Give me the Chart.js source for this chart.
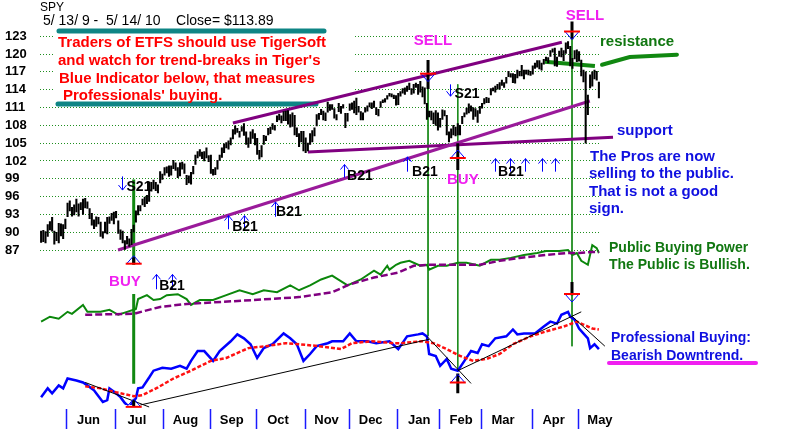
<!DOCTYPE html>
<html>
<head>
<meta charset="utf-8">
<title>SPY</title>
<script src="https://cdn.jsdelivr.net/npm/chart.js@4/dist/chart.umd.min.js"></script>
<style>
html,body{margin:0;padding:0;background:#fff;overflow:hidden}
canvas{display:block}
</style>
</head>
<body>
<canvas id="c" width="800" height="429"></canvas>
<script>
// ---------- DATA ----------
const monthLabels = ['Jun','Jul','Aug','Sep','Oct','Nov','Dec','Jan','Feb','Mar','Apr','May'];
const monthStartIdx = [12,34,56,77,98,120,140,162,181,200,223,244]; // trading-day index of 1st day of month
const priceTicks = [87,90,93,96,99,102,105,108,111,114,117,120,123];

// daily SPY highs / lows, 5/13/09 .. 5/14/10 (254 trading days)
const priceHigh = [
 90.2,90.3,90.1,91.3,91.8,92.5,90.2,90.0,91.5,91.4,91.3,92.2,
 94.9,95.3,94.2,94.6,95.6,94.8,95.0,95.6,95.7,95.1,94.0,93.2,92.1,92.6,92.5,91.7,90.1,91.7,92.5,92.6,93.2,93.4,
 93.5,91.9,90.4,90.2,88.6,89.3,88.9,90.5,91.2,93.6,94.5,94.5,95.6,95.9,96.2,98.5,98.4,98.8,98.4,98.0,100.2,99.8,
 100.9,101.0,101.2,101.2,102.1,101.7,100.9,101.7,101.8,101.5,99.6,99.5,100.1,101.1,103.0,103.6,103.9,103.5,103.6,104.2,102.9,
 103.0,100.6,100.9,102.1,103.0,104.2,104.9,105.1,105.4,105.9,107.3,107.9,107.5,107.0,107.8,108.3,106.9,105.9,106.9,107.3,106.6,
 105.8,103.8,104.6,106.3,106.2,107.5,107.7,108.3,108.0,109.6,109.9,109.6,110.3,110.4,110.5,109.8,110.1,109.7,107.6,106.6,107.0,107.0,
 105.9,105.0,106.6,107.1,107.6,109.8,110.0,110.7,110.4,110.1,111.9,111.5,111.5,110.8,109.8,111.7,111.2,111.5,110.0,110.0,
 111.6,111.8,112.1,112.6,111.2,110.3,110.1,111.0,111.3,111.8,111.8,112.1,111.0,110.7,112.0,112.3,112.5,113.0,113.4,113.3,113.1,113.0,
 113.4,113.7,114.2,114.3,114.6,115.1,114.2,114.9,115.1,114.9,115.4,114.5,114.3,111.7,110.4,110.4,110.1,110.5,110.1,
 109.2,110.6,110.5,109.7,106.9,107.4,108.0,107.7,108.3,108.0,109.5,110.1,110.9,111.6,111.3,111.0,110.8,110.5,111.2,
 111.7,112.5,112.7,112.6,114.2,114.3,114.6,114.9,115.2,115.6,115.2,116.1,117.1,116.7,116.7,116.6,117.3,117.1,118.1,117.3,117.3,117.3,117.1,
 118.0,118.5,118.9,118.9,118.5,119.1,119.5,119.4,120.6,120.9,121.0,119.5,120.5,121.0,120.6,121.9,122.1,121.3,119.3,120.6,120.7,
 120.4,119.0,117.3,117.0,113.1,116.5,117.0,117.3,117.1,115.3
];
const priceLow = [
 88.3,88.4,88.2,89.3,90.4,90.2,88.0,88.6,88.2,89.4,88.9,90.6,
 92.6,93.6,92.7,92.9,93.4,92.7,93.8,93.0,94.1,94.0,92.3,91.2,90.6,91.0,91.4,89.3,89.0,89.9,89.7,91.5,92.0,91.4,
 92.4,89.8,88.8,88.2,87.1,88.0,87.6,87.9,90.0,91.7,92.9,93.6,94.6,94.3,94.8,95.2,96.9,97.3,97.0,96.6,98.3,98.9,
 99.6,100.0,99.4,99.6,100.7,100.4,99.2,99.5,100.6,99.9,98.0,98.3,98.1,99.8,101.4,102.5,102.8,102.4,102.0,102.5,101.9,
 99.9,99.6,99.7,100.6,102.1,102.6,103.4,104.2,104.0,104.7,105.7,106.5,106.8,106.0,107.0,106.3,104.8,104.3,104.9,105.8,104.7,
 103.1,102.3,102.7,104.8,105.4,106.4,106.6,107.3,107.2,108.6,108.9,108.4,108.8,108.8,108.2,107.7,107.8,106.4,106.1,104.4,105.2,103.7,
 103.4,103.7,104.8,105.2,106.2,107.9,109.0,109.8,108.9,108.8,110.2,110.5,110.7,109.2,108.9,110.3,110.0,110.9,107.6,108.7,
 110.5,110.7,110.1,109.8,110.2,108.9,108.9,110.2,110.4,111.1,110.8,111.0,109.8,109.6,111.0,111.8,111.9,112.4,112.9,112.8,112.5,111.4,
 111.5,112.9,113.4,113.2,113.7,114.0,113.2,113.4,114.4,113.2,113.6,112.8,111.6,109.0,109.4,108.9,108.3,108.0,107.2,
 107.7,109.0,109.6,106.4,105.2,105.9,106.4,106.2,106.4,106.4,108.3,109.4,109.9,110.1,110.4,109.0,109.5,108.5,110.0,
 110.9,111.6,111.8,111.8,113.1,113.8,113.6,114.1,114.1,114.7,114.4,115.1,116.2,116.1,115.2,115.1,116.0,116.3,116.3,115.8,116.6,116.5,116.4,
 116.6,117.6,117.8,117.5,117.3,118.3,118.9,118.5,119.6,120.3,118.0,117.9,119.6,119.5,118.9,120.1,120.9,118.0,117.6,119.2,118.7,
 118.8,116.3,115.3,105.0,109.8,114.3,114.6,115.8,115.6,112.6
];

// Public Buying Power (green) and its moving average (purple)  [dayIndex, value]
const publicPower = [[0,10],[4,15],[8,13],[12,20],[14,18],[19,27],[21,20],[27,20],[31,22],[35,17],[39,20],[43,23],[44,33],[48,37],[51,32],[54,33],[57,37],[62,38],[66,33],[68,27],[72,32],[78,32],[84,37],[90,42],[96,38],[101,42],[107,40],[113,47],[117,42],[122,47],[127,53],[132,57],[139,47],[145,53],[151,62],[154,58],[157,67],[158,63],[161,68],[163,70],[167,72],[172,67],[175,68],[176,63],[180,67],[184,67],[189,70],[193,70],[199,67],[204,73],[208,73],[213,75],[219,78],[225,80],[229,82],[235,82],[239,83],[241,78],[243,80],[245,72],[248,68],[250,88],[252,85],[253,80]];
const publicMA = [[20,17],[42,18],[54,25],[66,28],[96,32],[117,35],[132,40],[140,48],[151,55],[162,60],[169,67],[176,68],[184,68],[199,68],[208,72],[217,75],[229,78],[239,80],[244,80],[250,81],[253,81]];

// Professional Buying (blue) and its moving average (red)
const proBuying = [[0,13],[3,22],[5,17],[8,25],[10,22],[12,32],[16,30],[19,28],[21,25],[24,20],[25,17],[28,8],[30,10],[31,22],[34,17],[36,13],[38,7],[40,3],[43,12],[44,22],[46,23],[49,33],[51,40],[55,43],[59,42],[63,45],[66,42],[68,50],[71,60],[74,60],[78,50],[81,60],[86,70],[89,77],[92,73],[95,67],[98,53],[101,63],[105,67],[110,78],[113,73],[116,67],[119,50],[122,57],[125,65],[130,68],[132,70],[137,70],[140,78],[143,70],[148,70],[152,68],[158,70],[162,62],[166,75],[171,77],[173,78],[175,75],[176,57],[179,55],[181,45],[184,52],[186,42],[189,40],[192,50],[195,60],[198,58],[200,67],[203,65],[206,73],[211,75],[214,82],[216,77],[219,78],[224,78],[228,85],[231,90],[234,88],[236,97],[239,100],[240,95],[242,92],[244,83],[248,73],[249,63],[251,67],[253,62]];
const proMA = [[20,24],[27,22],[34,18],[42,14],[46,15],[53,23],[60,32],[68,40],[77,50],[84,53],[94,63],[102,65],[111,68],[117,67],[126,65],[136,62],[141,68],[150,70],[160,68],[163,68],[173,70],[178,68],[184,62],[190,55],[196,50],[202,52],[208,57],[214,67],[222,75],[229,80],[237,85],[243,90],[246,87],[250,83],[253,82]];
const proTrendlines = [
 [[20,28],[49,3]],
 [[45,5],[176,72]],
 [[175,75],[195,27]],
 [[189,40],[245,100]],
 [[241,95],[255.7,65]]
];

// price trendlines [dayIndex, price]
const upperChannel = [[87,108.4],[236.2,122.0]];
const lowerChannel = [[34.9,87.0],[248.9,112.1]];
const supportLine = [[121,103.5],[259.4,106.0]];
const resistanceLine = [[228.5,118.7],[251.2,118.0]];
const resistanceCallout = [[254.4,118.2],[267,119.5],[288.4,119.9]];

// signal verticals [dayIndex, priceTop, priceBottom]
const buySignalBars = [[42,98.9,84.5],[42,79.6,64.5]];
const signalThinLines = [[175.5,118.7,72.5],[189,114.9,66.7],[240.8,125.3,70.8]];
const signalPillars = [[175.5,119.0,114.1],[189,105.0,100.5],[189,66.2,62.9],[240.8,125.5,122.5],[240.8,81.6,79.4],[42,85.8,84.6],[42,61.8,60.6]];
const buyMarkers = [[42,84.7],[42,60.6],[189,102.5],[189,64.7]];
const sellMarkers = [[175.5,116.7],[240.8,123.8],[240.8,79.6]];

// B21 / S21 arrows [dayIndex, priceTop, priceBottom]
const upArrows = [[52.1,82.9,80.4],[59.4,82.9,80.4],[84.8,92.8,90.5],[92,92.8,90.5],[106.1,95.1,92.6],[137.4,101.4,99.2],[165.9,102.7,100.2],[205.8,102.4,100.2],[212.6,102.4,100.2],[219.5,102.4,100.2],[227.2,102.4,100.2],[233.1,102.4,100.2]];
const downArrows = [[36.7,99.4,97.1],[185.4,114.9,112.9]];
const b21Labels = [[59.4,80.9],[92.5,90.8],[112.4,93.4],[144.6,99.4],[174.1,100.2],[213.1,100.2]];
const s21Labels = [[44.4,97.6],[193.2,113.3]];
const sellLabels = [[177.7,122.3],[246.7,126.5]];
const buyLabels = [[38,81.7],[191.3,98.9]];

// ---------- CHART ----------
const FONT = '"Liberation Sans", Arial, sans-serif';
const toXY = arr => arr.map(([x, y]) => ({x, y}));
const lineDs = (data, color, width, axis, extra) => Object.assign({
  type: 'line', data: toXY(data), borderColor: color, borderWidth: width, yAxisID: axis,
  pointRadius: 0, fill: false, tension: 0, order: 2
}, extra || {});

const datasets = [
  {type: 'bar', data: priceHigh.map((h, i) => ({x: i, y: [priceLow[i], h]})), backgroundColor: '#000',
   barThickness: 1.4, yAxisID: 'y', order: 0, grouped: false},
  lineDs(publicMA, '#800080', 2.5, 'yPub', {borderDash: [7, 3]}),
  lineDs(publicPower, '#0b870b', 2, 'yPub'),
  lineDs(proMA, '#ff1010', 2.5, 'yPro', {borderDash: [4, 2]}),
  lineDs(proBuying, '#0000ff', 2.5, 'yPro'),
  ...proTrendlines.map(s => lineDs(s, '#000', 1, 'yPro', {clip: false, order: 1})),
  lineDs(upperChannel, '#800080', 3, 'y'),
  lineDs(lowerChannel, '#9a1a9a', 3, 'y'),
  lineDs(supportLine, '#800080', 3, 'y', {clip: false}),
  lineDs(resistanceLine, '#118811', 4, 'y', {clip: false}),
  ...buySignalBars.map(([i, a, b]) => lineDs([[i, a], [i, b]], '#118811', 3, 'y', {clip: false})),
  ...signalThinLines.map(([i, a, b]) => lineDs([[i, a], [i, b]], '#1a8a1a', 1, 'y', {clip: false})),
  ...signalPillars.map(([i, a, b]) => lineDs([[i, a], [i, b]], '#000', 3, 'y', {clip: false, order: 1}))
];

function text(c, s, x, y, font, color, align) {
  c.font = font; c.fillStyle = color; c.textAlign = align || 'left'; c.textBaseline = 'alphabetic';
  c.fillText(s, x, y);
}

const annotPlugin = {
  id: 'annot',
  beforeDatasetsDraw(chart) {
    const c = chart.ctx; c.save();
    c.fillStyle = '#fff'; c.fillRect(55, 26, 300, 77);
    c.strokeStyle = '#0e8585'; c.lineWidth = 5; c.lineCap = 'round';
    c.beginPath(); c.moveTo(59, 31); c.lineTo(324, 31); c.moveTo(58, 104); c.lineTo(316, 104); c.stroke();
    c.restore();
  },
  afterDatasetsDraw(chart) {
    const c = chart.ctx, xs = chart.scales.x, ys = chart.scales.y;
    const X = i => xs.getPixelForValue(i), Y = v => ys.getPixelForValue(v);
    c.save();
    // resistance callout
    c.strokeStyle = '#118811'; c.lineWidth = 4; c.lineCap = 'round';
    c.beginPath(); resistanceCallout.forEach(([i, v], k) => k ? c.lineTo(X(i), Y(v)) : c.moveTo(X(i), Y(v))); c.stroke();
    c.lineCap = 'butt';
    // markers
    const marker = (i, v, up) => {
      const x = X(i), y = Y(v);
      c.strokeStyle = '#0000ff'; c.lineWidth = 1; c.beginPath();
      c.moveTo(x - 7, y); c.lineTo(x, up ? y - 8 : y + 8); c.lineTo(x + 7, y); c.stroke();
      c.strokeStyle = '#ff0000'; c.lineWidth = 2; c.beginPath(); c.moveTo(x - 8, y); c.lineTo(x + 8, y); c.stroke();
    };
    buyMarkers.forEach(([i, v]) => marker(i, v, true));
    sellMarkers.forEach(([i, v]) => marker(i, v, false));
    // arrows
    c.strokeStyle = '#0000ff'; c.lineWidth = 1;
    upArrows.forEach(([i, a, b]) => { const x = Math.round(X(i)) + 0.5, t = Y(a), btm = Y(b);
      c.beginPath(); c.moveTo(x, btm); c.lineTo(x, t); c.moveTo(x - 4, t + 5); c.lineTo(x, t); c.lineTo(x + 4, t + 5); c.stroke(); });
    downArrows.forEach(([i, a, b]) => { const x = Math.round(X(i)) + 0.5, t = Y(a), btm = Y(b);
      c.beginPath(); c.moveTo(x, t); c.lineTo(x, btm); c.moveTo(x - 4, btm - 5); c.lineTo(x, btm); c.lineTo(x + 4, btm - 5); c.stroke(); });
    // labels anchored to data
    c.textBaseline = 'middle'; c.textAlign = 'center';
    c.font = 'bold 14px ' + FONT; c.fillStyle = '#000';
    b21Labels.forEach(([i, v]) => c.fillText('B21', X(i), Y(v)));
    s21Labels.forEach(([i, v]) => c.fillText('S21', X(i), Y(v)));
    c.font = 'bold 15px ' + FONT; c.fillStyle = '#f020f0';
    sellLabels.forEach(([i, v]) => c.fillText('SELL', X(i), Y(v)));
    buyLabels.forEach(([i, v]) => c.fillText('BUY', X(i), Y(v)));
    // header
    text(c, 'SPY', 40, 11, '12px ' + FONT, '#000');
    text(c, '5/ 13/ 9 -  5/ 14/ 10    Close= $113.89', 43, 25, '14px ' + FONT, '#000');
    // red note
    const red = 'bold 15px ' + FONT;
    text(c, 'Traders of ETFS should use TigerSoft', 58, 47, red, '#ff0000');
    text(c, "and watch for trend-breaks in Tiger's", 58, 65, red, '#ff0000');
    text(c, 'Blue Indicator below, that measures', 59, 83, red, '#ff0000');
    text(c, "Professionals' buying.", 63, 100, red, '#ff0000');
    // right notes
    const b15 = 'bold 15px ' + FONT, b14 = 'bold 14px ' + FONT;
    text(c, 'resistance', 600, 46, b15, '#117711');
    text(c, 'support', 617, 135, b15, '#1010e0');
    text(c, 'The Pros are now', 590, 161, b15, '#1010e0');
    text(c, 'selling to the public.', 589, 178, b15, '#1010e0');
    text(c, 'That is not a good', 589, 196, b15, '#1010e0');
    text(c, 'sign.', 589, 213, b15, '#1010e0');
    text(c, 'Public Buying Power', 609, 252, b14, '#117711');
    text(c, 'The Public is Bullish.', 609, 269, b14, '#117711');
    text(c, 'Professional Buying:', 611, 342, b14, '#1010e0');
    text(c, 'Bearish Downtrend.', 611, 360, b14, '#1010e0');
    c.strokeStyle = '#f020f0'; c.lineWidth = 4; c.lineCap = 'round';
    c.beginPath(); c.moveTo(609, 363); c.lineTo(756, 363); c.stroke();
    c.restore();
  },
  afterDraw(chart) {
    const c = chart.ctx, xs = chart.scales.x;
    c.save(); c.strokeStyle = '#1a1aff'; c.lineWidth = 1.5; c.beginPath();
    monthStartIdx.forEach(i => { const x = Math.round(xs.getPixelForValue(i - 0.5)) + 0.5; c.moveTo(x, 409); c.lineTo(x, 429); });
    c.stroke(); c.restore();
  }
};

new Chart(document.getElementById('c'), {
  type: 'bar',
  data: {datasets},
  options: {
    responsive: false, animation: false, events: [],
    layout: {padding: {left: 5, right: 200, top: 0, bottom: 0}},
    plugins: {legend: {display: false}, tooltip: {enabled: false}},
    scales: {
      x: {
        type: 'linear', min: -0.5, max: 253.5, offset: false,
        afterBuildTicks: s => { s.ticks = monthStartIdx.map(v => ({value: v - 0.5})); },
        afterFit: s => { s.height = 24; },
        ticks: {callback: (v, i) => monthLabels[i], labelOffset: 22, padding: 8, autoSkip: false, maxRotation: 0,
                color: '#000', font: {family: FONT, size: 13, weight: 'bold'}},
        grid: {display: false, drawTicks: false}, border: {display: false}
      },
      y: {
        position: 'left', min: 60.91, max: 127.79,
        afterBuildTicks: s => { s.ticks = priceTicks.map(v => ({value: v})); },
        afterFit: s => { s.width = 35; },
        ticks: {crossAlign: 'far', padding: 0, autoSkip: false, color: '#000', font: {family: FONT, size: 13, weight: 'bold'}},
        grid: {color: '#1f8f1f', drawTicks: false, lineWidth: 1},
        border: {display: false, dash: [1, 2]}
      },
      yPub: {display: false, min: -75, max: 330},
      yPro: {display: false, min: 5, max: 410}
    }
  },
  plugins: [annotPlugin]
});
</script>
</body>
</html>
